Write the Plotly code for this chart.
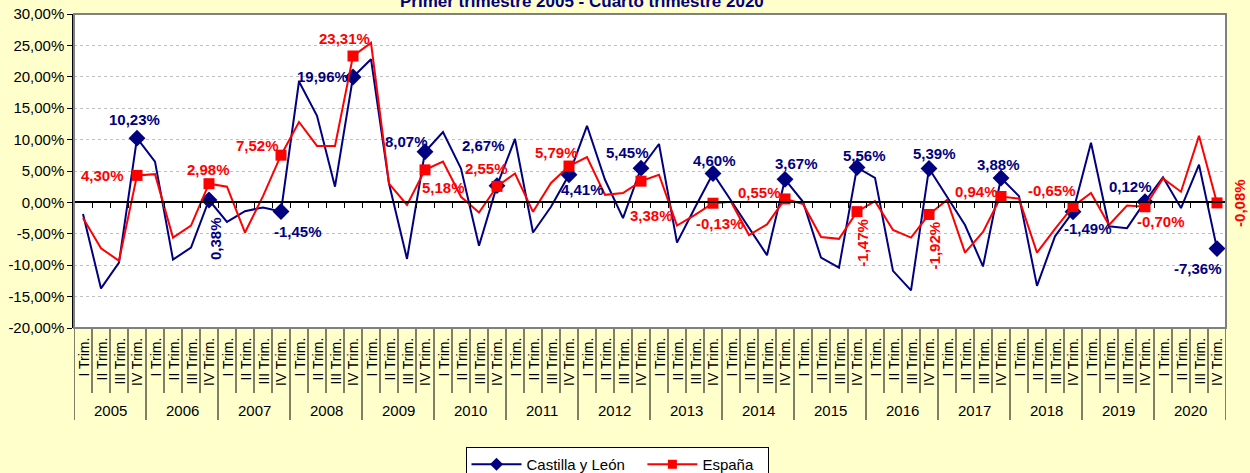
import plotly.graph_objects as go

# ---------------- data ----------------
years = [str(y) for y in range(2005, 2021)]
quarter_names = ["I Trim.", "II Trim.", "III Trim.", "IV Trim."]

cyl = [
    -1.85, -13.7, -9.6, 10.23,
    6.5, -9.1, -7.2, 0.38,
    -3.1, -1.4, -0.8, -1.45,
    19.25, 13.8, 2.5, 19.96,
    22.8, 3.0, -9.0, 8.07,
    11.2, 5.4, -6.9, 2.67,
    10.1, -4.8, -0.7, 4.41,
    12.2, 3.6, -2.5, 5.45,
    9.3, -6.4, -0.8, 4.60,
    0.3, -4.0, -8.4, 3.67,
    0.1, -8.8, -10.4, 5.56,
    3.9, -10.9, -14.0, 5.39,
    1.0, -3.6, -10.2, 3.88,
    1.0, -13.3, -5.4, -1.49,
    9.5, -3.8, -4.1, 0.12,
    4.0, -0.9, 6.0, -7.36,
]

esp = [
    -2.5, -7.3, -9.3, 4.30,
    4.5, -5.6, -3.7, 2.98,
    2.5, -4.8, 1.0, 7.52,
    12.8, 9.0, 9.0, 23.31,
    25.4, 3.0, -0.4, 5.18,
    6.5, 0.9, -1.6, 2.55,
    4.6, -1.5, 3.1, 5.79,
    7.2, 1.2, 1.5, 3.38,
    4.4, -3.7, -2.0, -0.13,
    0.1, -5.2, -3.5, 0.55,
    -0.25, -5.5, -5.8, -1.47,
    0.2, -4.4, -5.6, -1.92,
    0.4, -8.0, -4.7, 0.94,
    0.6, -8.0, -4.2, -0.65,
    1.5, -3.6, -0.5, -0.70,
    3.8, 1.7, 10.6, -0.08,
]

y_tick_vals = [30, 25, 20, 15, 10, 5, 0, -5, -10, -15, -20]
y_tick_labels = ["30,00%", "25,00%", "20,00%", "15,00%", "10,00%", "5,00%",
                 "0,00%", "-5,00%", "-10,00%", "-15,00%", "-20,00%"]

title_text = "Primer trimestre 2005 - Cuarto trimestre 2020"
name_cyl = "Castilla y León"
name_esp = "España"

# ---------------- styles ----------------
NAVY = "#000080"
RED = "#FF0000"
PAPER = "#FFFFCC"
FONT = "Liberation Sans, Arial, sans-serif"
YMIN, YMAX = -20, 30

# label offsets (dx, dy in screen px, angle) for Q4 points
cyl_label_style = {
    3: (-3, -19, 0), 7: (6, 39, -90), 11: (17, 20, 0), 15: (-31, -1, 0),
    19: (-19, -10, 0), 23: (-14, -40, 0), 27: (13, 15, 0), 31: (-14, -16, 0),
    35: (1, -13, 0), 39: (11, -16, 0), 43: (7, -12, 0), 47: (5, -15, 0),
    51: (-3, -14, 0), 55: (15, 17, 0), 59: (-15, -15, 0), 63: (-19, 20, 0),
}
esp_label_style = {
    3: (-35, 0, 0), 7: (-1, -14, 0), 11: (-24, -10, 0), 15: (-9, -18, 0),
    19: (18, 18, 0), 23: (-11, -18, 0), 27: (-13, -14, 0), 31: (10, 34, 0),
    35: (7, 20, 0), 39: (-26, -6, 0), 43: (6, 31, -90), 47: (5, 31, -90),
    51: (-25, -5, 0), 55: (-21, -16, 0), 59: (16, 15, 0), 63: (23, 0, -90),
}

n = len(cyl)
xs = list(range(n))
q4 = [i for i in xs if i % 4 == 3]

fig = go.Figure()

fig.add_trace(go.Scatter(x=xs, y=cyl, mode="lines", line=dict(color=NAVY, width=2),
                         showlegend=False, hoverinfo="skip"))
fig.add_trace(go.Scatter(x=q4, y=[cyl[i] for i in q4], mode="markers",
                         marker=dict(symbol="diamond", size=13, color=NAVY),
                         showlegend=False))
fig.add_trace(go.Scatter(x=xs, y=esp, mode="lines", line=dict(color=RED, width=2),
                         showlegend=False, hoverinfo="skip"))
fig.add_trace(go.Scatter(x=q4, y=[esp[i] for i in q4], mode="markers",
                         marker=dict(symbol="square", size=11, color=RED),
                         showlegend=False))

fig.add_trace(go.Scatter(x=[None], y=[None], mode="lines+markers", name=name_cyl + "   ",
                         line=dict(color=NAVY, width=2),
                         marker=dict(symbol="diamond", size=10, color=NAVY)))
fig.add_trace(go.Scatter(x=[None], y=[None], mode="lines+markers", name=name_esp + "  ",
                         line=dict(color=RED, width=2),
                         marker=dict(symbol="square", size=9, color=RED)))

annotations = []


def fmt(v):
    return f"{v:.2f}".replace(".", ",") + "%"


for series, styles, color in ((cyl, cyl_label_style, NAVY), (esp, esp_label_style, RED)):
    for i in q4:
        dx, dy, ang = styles[i]
        annotations.append(dict(
            x=i, y=series[i], xref="x", yref="y", text="<b>" + fmt(series[i]) + "</b>",
            showarrow=False, xshift=dx, yshift=-dy, textangle=ang,
            xanchor="center", yanchor="middle",
            font=dict(family=FONT, size=15, color=color)))

PLOT_H = 473 - 14 - 145
for i in xs:
    annotations.append(dict(
        x=i, y=0, xref="x", yref="paper", text=quarter_names[i % 4],
        showarrow=False, textangle=-90, xanchor="center", yanchor="top", yshift=-8,
        font=dict(family=FONT, size=14, color="black")))
for j, yr in enumerate(years):
    annotations.append(dict(
        x=4 * j + 1.5, y=0, xref="x", yref="paper", text=yr, showarrow=False,
        xanchor="center", yanchor="middle", yshift=-82,
        font=dict(family=FONT, size=15, color="black")))

annotations.append(dict(
    x=0.441, y=1, xref="paper", yref="paper", text="<b>" + title_text + "</b>",
    showarrow=False, xanchor="center", yanchor="middle", yshift=13,
    font=dict(family=FONT, size=17, color=NAVY)))

shapes = []
for k in range(n + 1):
    yr_line = (k % 4 == 0)
    shapes.append(dict(type="line", xref="x", yref="paper", x0=k - 0.5, x1=k - 0.5,
                       y0=0, y1=-(92 if yr_line else 65) / PLOT_H,
                       line=dict(color="black", width=1)))
shapes.append(dict(type="rect", xref="paper", yref="paper", x0=0, x1=1, y0=0, y1=1,
                   line=dict(color="#808080", width=2), layer="above"))

fig.update_layout(
    width=1250, height=473,
    margin=dict(l=74, r=24, t=14, b=145, autoexpand=False),
    paper_bgcolor=PAPER, plot_bgcolor="white",
    font=dict(family=FONT, size=14, color="black"),
    annotations=annotations, shapes=shapes,
    legend=dict(orientation="h", x=(617 - 74) / 1152, xanchor="center", y=-119 / PLOT_H,
                yanchor="top", bordercolor="black", borderwidth=1, bgcolor="white",
                font=dict(family=FONT, size=15, color="black"), itemwidth=50),
    xaxis=dict(range=[-0.5, n - 0.5], anchor="free",
               position=(0 - YMIN) / (YMAX - YMIN), automargin=False,
               showline=True, linecolor="black", linewidth=1.5,
               tickvals=[k - 0.5 for k in range(n + 1)], ticks="outside", ticklen=5,
               tickcolor="black", showticklabels=False, showgrid=False, zeroline=False),
    yaxis=dict(range=[YMIN, YMAX], tickvals=y_tick_vals, ticktext=y_tick_labels,
               automargin=False,
               showgrid=True, gridcolor="#C0C0C0", griddash="dot", gridwidth=1,
               ticks="outside", ticklen=5, tickcolor="black", showline=True,
               linecolor="black", linewidth=1.5, zeroline=False,
               tickfont=dict(family=FONT, size=15, color="black")),
)

fig.write_html(
    "out.html",
    config={"displayModeBar": False},
    post_script="document.body.style.margin='0';document.body.style.overflow='hidden';"
                "document.body.style.background='" + PAPER + "';",
)
